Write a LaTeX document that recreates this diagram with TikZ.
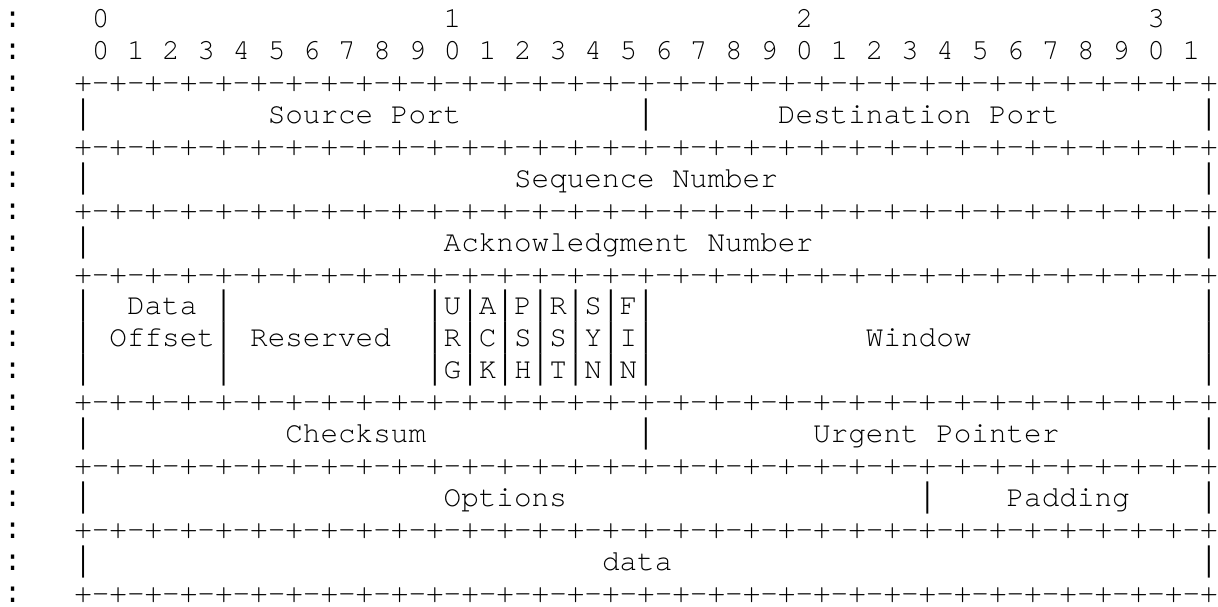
\documentclass[tikz,border=0pt]{standalone}
\usepackage{graphicx}
\usepackage{fontspec}
\newfontfamily\asciifont[Ligatures={NoCommon,NoRequired,NoContextual}]{TeX Gyre Cursor}
\newfontfamily\barfont{DejaVu Sans Mono}
\newfontfamily\colfont{Liberation Mono}
\newcommand\sk[1]{\hspace*{#1\dimexpr0.6em\relax}}
\newcommand\vb{\makebox[0.6em][c]{\scalebox{0.8}[1.1]{\barfont|}}}
\newcommand\cl{{\colfont:}}
\newcommand\sepln{+-+-+-+-+-+-+-+-+-+-+-+-+-+-+-+-+-+-+-+-+-+-+-+-+-+-+-+-+-+-+-+-+}
\tikzset{
  row/.style={anchor=base west, inner sep=0pt, outer sep=0pt, font=\asciifont\fontsize{29.32}{32}\selectfont\frenchspacing}
}
\begin{document}
\begin{tikzpicture}[x=1pt,y=1pt]
\fill[white] (0,0) rectangle (1218,606);
\useasboundingbox (0,0) rectangle (1218,606);
\def\lx{3.9}
\def\rowy#1{606-27.5-(#1-1)*31.94}
\node[row] (l1)  at (\lx,{\rowy{1}})  {\cl\sk{4}0\sk{19}1\sk{19}2\sk{19}3};
\node[row] (l2)  at (\lx,{\rowy{2}})  {\cl\sk{4}0~1~2~3~4~5~6~7~8~9~0~1~2~3~4~5~6~7~8~9~0~1~2~3~4~5~6~7~8~9~0~1};
\node[row] (l3)  at (\lx,{\rowy{3}})  {\cl\sk{3}\sepln};
\node[row] (l4)  at (\lx,{\rowy{4}})  {\cl\sk{3}\vb\sk{10}Source~Port\sk{10}\vb\sk{7}Destination~Port\sk{8}\vb};
\node[row] (l5)  at (\lx,{\rowy{5}})  {\cl\sk{3}\sepln};
\node[row] (l6)  at (\lx,{\rowy{6}})  {\cl\sk{3}\vb\sk{24}Sequence~Number\sk{24}\vb};
\node[row] (l7)  at (\lx,{\rowy{7}})  {\cl\sk{3}\sepln};
\node[row] (l8)  at (\lx,{\rowy{8}})  {\cl\sk{3}\vb\sk{20}Acknowledgment~Number\sk{22}\vb};
\node[row] (l9)  at (\lx,{\rowy{9}})  {\cl\sk{3}\sepln};
\node[row] (l10) at (\lx,{\rowy{10}}) {\cl\sk{3}\vb\sk{2}Data~\vb\sk{11}\vb U\vb A\vb P\vb R\vb S\vb F\vb\sk{31}\vb};
\node[row] (l11) at (\lx,{\rowy{11}}) {\cl\sk{3}\vb~Of{}fset\vb~Reserved\sk{2}\vb R\vb C\vb S\vb S\vb Y\vb I\vb\sk{12}Window\sk{13}\vb};
\node[row] (l12) at (\lx,{\rowy{12}}) {\cl\sk{3}\vb\sk{7}\vb\sk{11}\vb G\vb K\vb H\vb T\vb N\vb N\vb\sk{31}\vb};
\node[row] (l13) at (\lx,{\rowy{13}}) {\cl\sk{3}\sepln};
\node[row] (l14) at (\lx,{\rowy{14}}) {\cl\sk{3}\vb\sk{11}Checksum\sk{12}\vb\sk{9}Urgent~Pointer\sk{8}\vb};
\node[row] (l15) at (\lx,{\rowy{15}}) {\cl\sk{3}\sepln};
\node[row] (l16) at (\lx,{\rowy{16}}) {\cl\sk{3}\vb\sk{20}Options\sk{20}\vb\sk{4}Padding\sk{4}\vb};
\node[row] (l17) at (\lx,{\rowy{17}}) {\cl\sk{3}\sepln};
\node[row] (l18) at (\lx,{\rowy{18}}) {\cl\sk{3}\vb\sk{29}data\sk{30}\vb};
\node[row] (l19) at (\lx,{\rowy{19}}) {\cl\sk{3}\sepln};
\end{tikzpicture}
\end{document}
